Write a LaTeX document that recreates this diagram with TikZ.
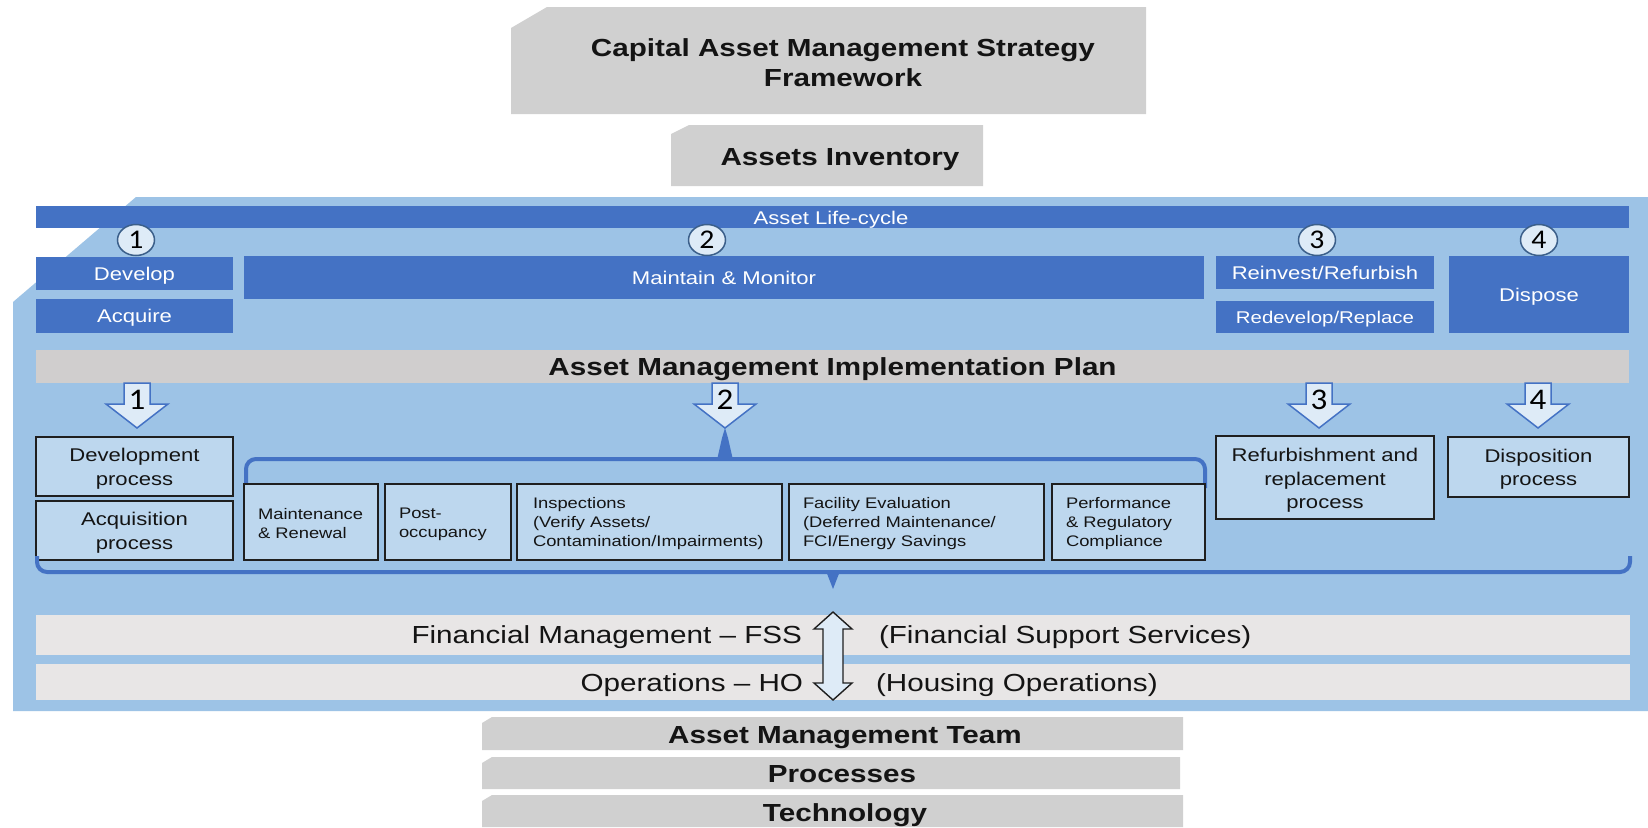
\documentclass[tikz,border=0pt]{standalone}
\usepackage{fontspec}
\setmainfont{Liberation Sans}[FakeStretch=1.2]
\newfontfamily\numfont{Carlito}[FakeStretch=1.1]
\usetikzlibrary{shapes.geometric}
\definecolor{panel}{HTML}{9DC3E6}
\definecolor{dblue}{HTML}{4472C4}
\definecolor{lbox}{HTML}{BDD7EE}
\definecolor{amip}{HTML}{D0CECE}
\definecolor{fin}{HTML}{E8E6E6}
\definecolor{greybox}{HTML}{D0D0D0}
\definecolor{pale}{HTML}{DEEBF7}
\definecolor{boxline}{HTML}{1F1F1F}
\definecolor{circline}{HTML}{3B5F8A}
\definecolor{ink}{HTML}{141414}
\newcommand\fsL{\fontsize{24.7}{30}\selectfont}
\newcommand\fsM{\fontsize{18.4}{23.5}\selectfont}
\newcommand\fsMs{\fontsize{17}{21}\selectfont}
\newcommand\fsS{\fontsize{15.3}{19}\selectfont}
\newcommand\mybox[7]{%
  \pgfmathsetmacro\mbW{#4-#2}\pgfmathsetmacro\mbH{#5-#3}%
  \pgfmathsetmacro\mbX{(#2+#4)/2}\pgfmathsetmacro\mbY{(#3+#5)/2}%
  \node[#6, minimum width=\mbW pt, minimum height=\mbH pt] (#1) at (\mbX,\mbY) {#7};}
\begin{document}
\begin{tikzpicture}[x=1pt,y=-1pt,
  every node/.style={inner sep=0pt, outer sep=0pt},
  oneline/.style={text depth=0pt},
  bluebox/.style={oneline, fill=dblue, text=white, font=\fsM, align=center},
  procbox/.style={fill=lbox, draw=boxline, line width=1.6pt},
  proctext/.style={text=ink, font=\fsM, align=center},
  proctextL/.style={text=ink, font=\fsS, align=left},
  bartext/.style={oneline, text=ink, font=\fsL},
  greytext/.style={text=ink, font=\fsL\bfseries, align=center},
  numcirc/.style={ellipse, minimum width=37pt, minimum height=31pt, fill=pale, draw=circline, line width=1.5pt, text=black, font=\numfont\fontsize{27}{27}\selectfont},
  arrnum/.style={text=black, font=\numfont\fontsize{30}{30}\selectfont},
  blockarrow/.style={fill=pale, draw=dblue, line width=1.5pt, line join=miter},
  dblarrow/.style={fill=pale, draw=boxline, line width=1.4pt},
  brace/.style={draw=dblue, line width=4pt},
  downarr/.pic={\draw[blockarrow] (-13,0) -- (13,0) -- (13,21) -- (31,21) -- (0,45) -- (-31,21) -- (-13,21) -- cycle;}
]
\useasboundingbox (0,0) rectangle (1648,827);
\fill[white] (0,0) rectangle (1648,827);

% top grey boxes
\fill[greybox] (547,7) -- (1146,7) -- (1146,114) -- (511,114) -- (511,28) -- cycle;
\node[greytext, yshift=-1pt] (title) at (843,62) {Capital Asset Management Strategy\\Framework};
\fill[greybox] (689,125) -- (983,125) -- (983,186) -- (671,186) -- (671,134) -- cycle;
\node[greytext, oneline] (inv) at (840,157) {Assets Inventory};

% panel
\fill[panel] (136,197) -- (1648,197) -- (1648,711) -- (13,711) -- (13,302) -- cycle;

% life-cycle bar
\mybox{life}{36}{206}{1629}{228}{bluebox}{}
\node[oneline, text=white, font=\fsM] (lifet) at (831,218) {Asset Life-cycle};

% blue stage boxes
\mybox{dev}{36}{257}{233}{290}{bluebox}{Develop}
\mybox{acq}{36}{299}{233}{333}{bluebox}{Acquire}
\mybox{mm}{244}{256}{1204}{299}{bluebox}{Maintain \& Monitor}
\mybox{rein}{1216}{256}{1434}{289}{bluebox}{Reinvest/Refurbish}
\mybox{redev}{1216}{301}{1434}{333}{bluebox, font=\fsMs}{Redevelop/Replace}
\mybox{disp}{1449}{256}{1629}{333}{bluebox}{Dispose}

% circles
\node[numcirc] (c1) at (136,240) {1};
\node[numcirc] (c2) at (707,240) {2};
\node[numcirc] (c3) at (1317,240) {3};
\node[numcirc] (c4) at (1539,240) {4};

% AMIP bar
\mybox{amip}{36}{350}{1629}{383}{oneline, fill=amip, text=ink, font=\fsL\bfseries}{Asset Management Implementation Plan}

% block arrows
\pic at (137,383) {downarr};
\pic at (725,383) {downarr};
\pic at (1319,383) {downarr};
\pic at (1538,383) {downarr};
\node[arrnum] (a1) at (137,400) {1};
\node[arrnum] (a2) at (725,400) {2};
\node[arrnum] (a3) at (1319,400) {3};
\node[arrnum] (a4) at (1538,400) {4};

% top brace
\draw[brace, rounded corners=10pt] (246,488) -- (246,459) -- (1205,459) -- (1205,488);
\fill[dblue] (717,460) -- (722,438) -- (725,428) -- (728,438) -- (733,460) -- cycle;

% process boxes
\mybox{devp}{36}{437}{233}{496}{procbox}{}
\mybox{acqp}{36}{501}{233}{560}{procbox}{}
\mybox{mr}{244}{484}{378}{560}{procbox}{}
\mybox{po}{385}{484}{511}{560}{procbox}{}
\mybox{insp}{517}{484}{782}{560}{procbox}{}
\mybox{fe}{789}{484}{1044}{560}{procbox}{}
\mybox{prc}{1052}{484}{1205}{560}{procbox}{}
\mybox{refp}{1216}{436}{1434}{519}{procbox}{}
\mybox{disp2}{1448}{437}{1629}{497}{procbox}{}
\node[proctext] (devpt) at ([yshift=-2pt]devp.center) {Development\\process};
\node[proctext] (acqpt) at ([yshift=-2pt]acqp.center) {Acquisition\\process};
\node[proctextL, text width=106pt] (mrt) at ([yshift=-2pt]mr.center) {Maintenance\\\& Renewal};
\node[proctextL, text width=98pt] (pot) at ([yshift=-2pt]po.center) {Post-\\occupancy};
\node[proctextL, text width=233pt] (inspt) at ([yshift=-2pt]insp.center) {Inspections\\(Verify Assets/\\Contamination/Impairments)};
\node[proctextL, text width=227pt] (fet) at ([yshift=-2pt]fe.center) {Facility Evaluation\\(Deferred Maintenance/\\FCI/Energy Savings};
\node[proctextL, text width=125pt] (prct) at ([yshift=-2pt]prc.center) {Performance\\\& Regulatory\\Compliance};
\node[proctext] (refpt) at ([yshift=-3pt]refp.center) {Refurbishment and\\replacement\\process};
\node[proctext] (disp2t) at ([yshift=-2pt]disp2.center) {Disposition\\process};

% bottom brace
\draw[brace, rounded corners=10pt] (37,556) -- (37,572) -- (1630,572) -- (1630,556);
\fill[dblue] (826,571) -- (833,589) -- (840,571) -- cycle;

% financial / operations bars
\mybox{finbar}{36}{615}{1630}{655}{fill=fin}{}
\mybox{opsbar}{36}{664}{1630}{700}{fill=fin}{}
\node[bartext, anchor=east] (fin1) at (802,635) {Financial Management – FSS};
\node[bartext, anchor=west] (fin2) at (879,635) {(Financial Support Services)};
\node[bartext, anchor=east] (ops1) at (803,683) {Operations – HO};
\node[bartext, anchor=west] (ops2) at (876,683) {(Housing Operations)};
\draw[dblarrow] (833,612) -- (852,629) -- (843,629) -- (843,683) -- (852,683) -- (833,700) -- (814,683) -- (823,683) -- (823,629) -- (814,629) -- cycle;

% bottom grey boxes
\fill[greybox] (492,717) -- (1183,717) -- (1183,750) -- (482,750) -- (482,723) -- cycle;
\node[greytext, oneline] (team) at (845,735) {Asset Management Team};
\fill[greybox] (492,757) -- (1180,757) -- (1180,789) -- (482,789) -- (482,763) -- cycle;
\node[greytext, oneline] (proc) at (842,774) {Processes};
\fill[greybox] (492,795) -- (1183,795) -- (1183,827) -- (482,827) -- (482,801) -- cycle;
\node[greytext, oneline] (tech) at (845,813) {Technology};
\end{tikzpicture}
\end{document}
